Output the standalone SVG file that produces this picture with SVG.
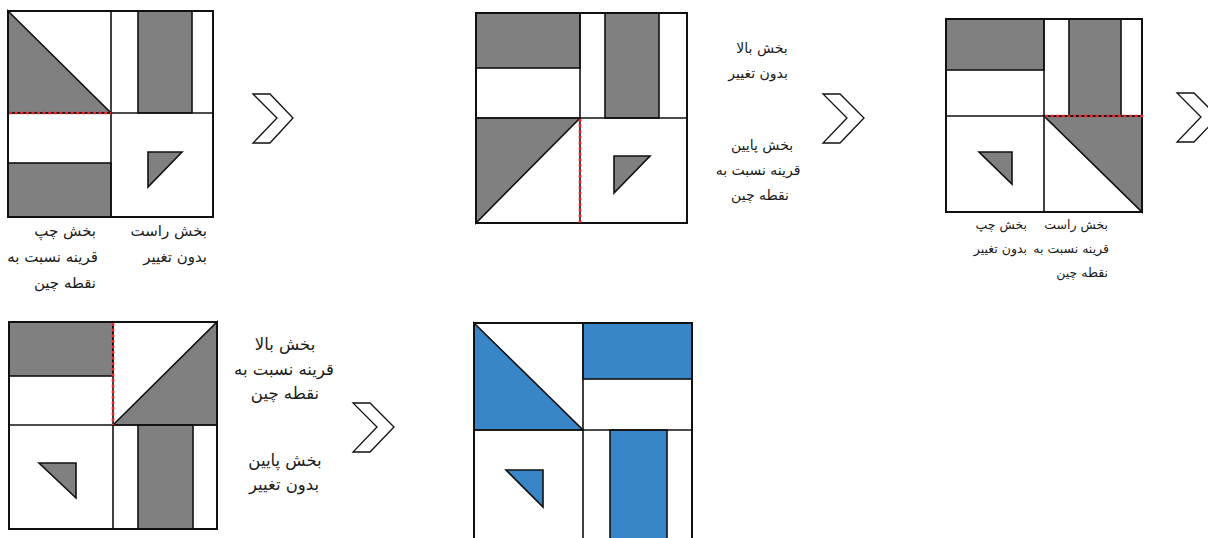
<svg xmlns="http://www.w3.org/2000/svg" width="1208" height="538" viewBox="0 0 1208 538">
<style>
.bg{fill:#fff}
.g{fill:#808080;stroke:#111;stroke-width:1.6}
.b{fill:#3886C8;stroke:#111;stroke-width:1.6}
.w{fill:#fff;stroke:#111;stroke-width:1.6}
.ln{stroke:#111;stroke-width:1.6;fill:none}
.frame{fill:none;stroke:#111;stroke-width:2}
.red{stroke:#e8252a;stroke-width:2.6;stroke-dasharray:3 2.6;fill:none}
.arr{fill:#fff;stroke:#111;stroke-width:1.3;stroke-linejoin:miter}
text{font-family:"DejaVu Sans","Noto Sans",sans-serif;fill:#1a1a1a}
.s1{font-size:15px}
.s2{font-size:14px}
.s3{font-size:12.5px}
.s4{font-size:16.5px}
.m{text-anchor:middle}
.e{text-anchor:end}
</style>
<rect class="bg" x="0" y="0" width="1208" height="538"/>

<g id="square1">
<rect class="w" x="8" y="11" width="205" height="206"/>
<polygon class="g" points="8,11 111,113 8,113"/>
<rect class="g" x="138" y="11" width="54" height="102"/>
<rect class="g" x="8" y="163" width="103" height="54"/>
<line class="ln" x1="111" y1="11" x2="111" y2="217"/>
<line class="ln" x1="8" y1="113" x2="213" y2="113"/>
<polygon class="g" points="148,152 182,152 148,187"/>
<rect class="frame" x="8" y="11" width="205" height="206"/>
<line class="red" x1="9" y1="113" x2="111" y2="113"/>
<g class="s1">
<text class="e" x="96" y="236">بخش چپ</text>
<text class="e" x="98" y="262">قرینه نسبت به</text>
<text class="e" x="96" y="288">نقطه چین</text>
<text class="e" x="207" y="236">بخش راست</text>
<text class="e" x="207" y="262">بدون تغییر</text>
</g>
</g>

<g id="square2">
<rect class="w" x="476" y="13" width="211" height="210"/>
<rect class="g" x="476" y="13" width="104" height="55"/>
<rect class="g" x="605" y="13" width="54" height="105"/>
<polygon class="g" points="476,118 580,118 476,223"/>
<line class="ln" x1="580" y1="13" x2="580" y2="223"/>
<line class="ln" x1="476" y1="118" x2="687" y2="118"/>
<polygon class="g" points="614,156 650,156 614,193"/>
<rect class="frame" x="476" y="13" width="211" height="210"/>
<line class="red" x1="580" y1="119" x2="580" y2="223"/>
<g class="s2">
<text class="m" x="762" y="53">بخش بالا</text>
<text class="m" x="758" y="78">بدون تغییر</text>
<text class="m" x="762" y="150">بخش پایین</text>
<text class="m" x="758" y="175">قرینه نسبت به</text>
<text class="m" x="760" y="200">نقطه چین</text>
</g>
</g>

<g id="square3">
<rect class="w" x="946" y="19" width="196" height="193"/>
<rect class="g" x="946" y="19" width="98" height="51"/>
<rect class="g" x="1069" y="19" width="52" height="97"/>
<polygon class="g" points="1044,116 1142,116 1142,212"/>
<line class="ln" x1="1044" y1="19" x2="1044" y2="212"/>
<line class="ln" x1="946" y1="116" x2="1142" y2="116"/>
<polygon class="g" points="979,152 1012,152 1012,184"/>
<rect class="frame" x="946" y="19" width="196" height="193"/>
<line class="red" x1="1045" y1="116" x2="1145" y2="116"/>
<g class="s3">
<text class="e" x="1027" y="229">بخش چپ</text>
<text class="e" x="1027" y="253">بدون تغییر</text>
<text class="e" x="1108" y="229">بخش راست</text>
<text class="e" x="1109" y="253">قرینه نسبت به</text>
<text class="e" x="1108" y="277">نقطه چین</text>
</g>
</g>

<g id="square4">
<rect class="w" x="9" y="322" width="208" height="207"/>
<rect class="g" x="9" y="322" width="104" height="54"/>
<polygon class="g" points="113,425 217,322 217,425"/>
<rect class="g" x="138" y="425" width="55" height="104"/>
<line class="ln" x1="113" y1="322" x2="113" y2="529"/>
<line class="ln" x1="9" y1="425" x2="217" y2="425"/>
<polygon class="g" points="39,463 76,463 76,498"/>
<rect class="frame" x="9" y="322" width="208" height="207"/>
<line class="red" x1="113" y1="323" x2="113" y2="425"/>
<g class="s4">
<text class="m" x="285" y="350">بخش بالا</text>
<text class="m" x="284" y="375">قرینه نسبت به</text>
<text class="m" x="285" y="399">نقطه چین</text>
<text class="m" x="285" y="466">بخش پایین</text>
<text class="m" x="284" y="490">بدون تغییر</text>
</g>
</g>

<g id="square5">
<rect class="w" x="474" y="323" width="218" height="218"/>
<polygon class="b" points="474,323 583,430 474,430"/>
<rect class="b" x="583" y="323" width="109" height="56"/>
<rect class="b" x="610" y="430" width="57" height="111"/>
<line class="ln" x1="583" y1="323" x2="583" y2="541"/>
<line class="ln" x1="474" y1="430" x2="692" y2="430"/>
<polygon class="b" points="506,470 543,470 543,507"/>
<rect class="frame" x="474" y="323" width="218" height="218"/>
</g>

<g id="connectors">
<polygon class="arr" points="253,94 270,94 293,118 270,143 253,143 277,118"/>
<polygon class="arr" points="823,94 840,94 864,118 840,143 823,143 847,118"/>
<polygon class="arr" points="1177,93 1194,93 1218,117 1194,142 1177,142 1201,117"/>
<polygon class="arr" points="353,403 370,403 394,427 370,452 353,452 377,427"/>
</g>
</svg>
